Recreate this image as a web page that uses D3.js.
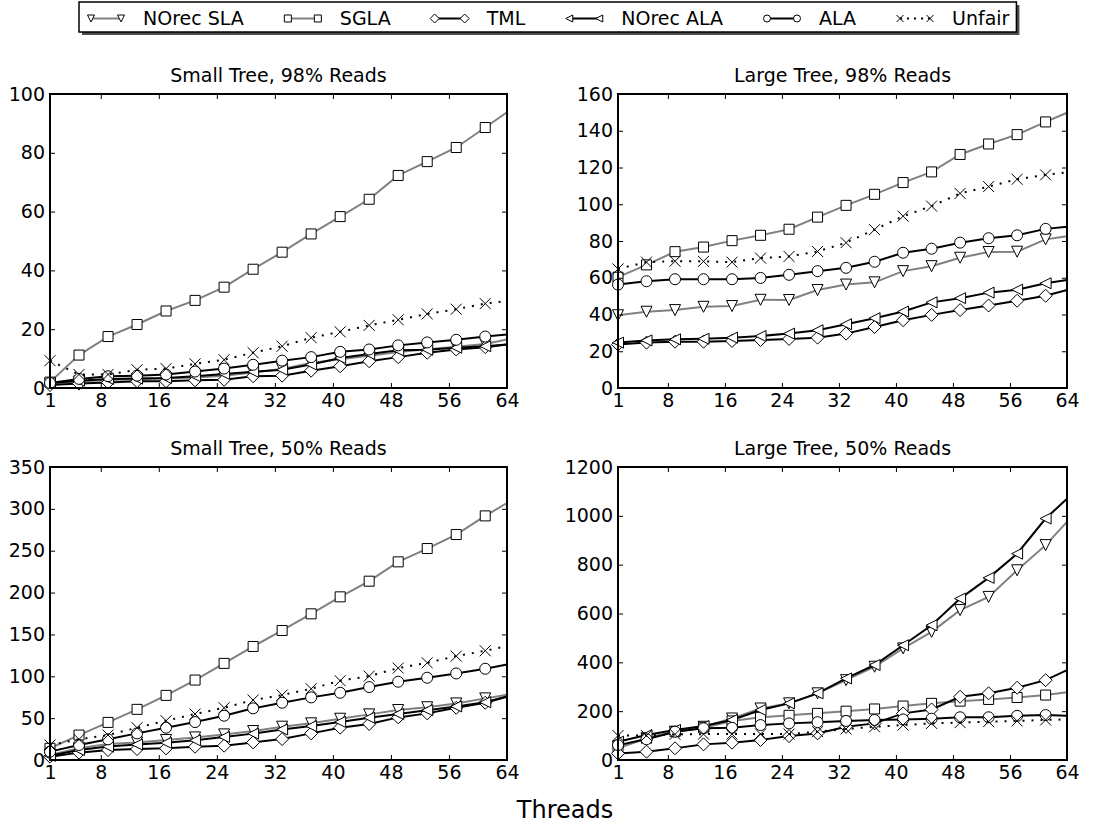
<!DOCTYPE html>
<html>
<head>
<meta charset="utf-8">
<script src="https://cdn.jsdelivr.net/npm/d3@7"></script>
<style>
body { margin: 0; background: white; }
text { font-family: "DejaVu Sans", sans-serif; fill: black; }
</style>
</head>
<body>
<script>

var w = 1109;
var h = 824;

// thread counts where values were read (markers sit on all but the last)
var threads = [1, 5, 9, 13, 17, 21, 25, 29, 33, 37, 41, 45, 49, 53, 57, 61, 64];
var xTicks = [1, 8, 16, 24, 32, 40, 48, 56, 64];

var seriesNames = ["NOrec SLA", "SGLA", "TML", "NOrec ALA", "ALA", "Unfair"];
var seriesColors = ["#808080", "#808080", "black", "black", "black", "black"];
var seriesShapes = ["triDown", "square", "diamond", "triLeft", "circle", "x"];
var seriesDashed = [false, false, false, false, false, true];

var panelTitles = ["Small Tree, 98% Reads", "Large Tree, 98% Reads", "Small Tree, 50% Reads", "Large Tree, 50% Reads"];
var yTicks98Small = [0, 20, 40, 60, 80, 100];
var yTicks98Large = [0, 20, 40, 60, 80, 100, 120, 140, 160];
var yTicks50Small = [0, 50, 100, 150, 200, 250, 300, 350];
var yTicks50Large = [0, 200, 400, 600, 800, 1000, 1200];

// Small Tree, 98% Reads
var st98NorecSla = [1.5, 2.2, 2.7, 3.0, 3.2, 3.6, 4.2, 5.3, 6.5, 8.5, 9.8, 11.0, 12.2, 13.2, 14.0, 15.0, 16.5];
var st98Sgla     = [2.0, 11.2, 17.5, 21.6, 26.2, 29.8, 34.3, 40.4, 46.2, 52.4, 58.3, 64.2, 72.3, 77.0, 81.8, 88.6, 93.8];
var st98Tml      = [1.0, 1.5, 1.9, 2.3, 2.3, 2.6, 2.8, 4.0, 4.2, 5.9, 7.4, 9.1, 10.5, 12.0, 13.1, 13.9, 14.8];
var st98NorecAla = [1.7, 2.5, 3.1, 3.2, 3.4, 4.0, 4.8, 5.5, 6.2, 8.0, 10.2, 11.6, 12.8, 13.0, 13.7, 14.2, 14.8];
var st98Ala      = [1.7, 3.1, 4.0, 4.2, 4.6, 5.6, 6.6, 7.9, 9.3, 10.5, 12.3, 13.1, 14.5, 15.5, 16.4, 17.5, 18.2];
var st98Unfair   = [9.3, 4.6, 4.6, 6.2, 6.6, 8.2, 9.6, 12.0, 14.2, 17.1, 19.1, 21.3, 23.2, 25.2, 26.8, 28.7, 29.6];

// Large Tree, 98% Reads
var lt98NorecSla = [39.6, 41.5, 42.4, 44.2, 44.6, 48.0, 47.9, 53.3, 56.3, 57.5, 63.6, 66.3, 70.9, 74.0, 74.2, 80.9, 82.6];
var lt98Sgla     = [60.3, 67.0, 74.2, 76.7, 80.2, 83.1, 86.4, 93.0, 99.4, 105.4, 111.8, 117.6, 127.1, 132.8, 137.9, 144.8, 149.8];
var lt98Tml      = [23.7, 24.7, 25.2, 25.2, 25.6, 26.1, 26.7, 27.4, 29.6, 33.2, 36.9, 39.8, 42.4, 44.9, 47.5, 50.2, 53.3];
var lt98NorecAla = [24.7, 25.9, 26.5, 26.8, 27.4, 28.3, 29.6, 31.4, 34.7, 38.0, 41.6, 46.6, 48.9, 51.9, 53.5, 57.0, 58.8];
var lt98Ala      = [56.3, 58.1, 59.2, 59.2, 59.2, 59.9, 61.6, 63.6, 65.4, 68.7, 73.6, 75.8, 79.1, 81.5, 83.1, 86.6, 87.7];
var lt98Unfair   = [64.8, 68.5, 69.0, 68.9, 68.5, 70.7, 71.6, 74.3, 79.1, 86.2, 93.5, 99.0, 105.9, 109.6, 113.6, 116.0, 117.3];

// Small Tree, 50% Reads
var st50NorecSla = [6, 14, 19, 21, 23.9, 27, 30.6, 34.6, 39.8, 43.8, 49.3, 54.5, 59.7, 63, 67.6, 73.6, 78];
var st50Sgla     = [14, 29.8, 44.9, 60.5, 77.2, 95.5, 115.4, 135.6, 154.7, 174.6, 194.9, 213.6, 236.7, 252.6, 269.3, 291.6, 307];
var st50Tml      = [4, 8.8, 11.9, 13.1, 13.9, 15.9, 17.1, 21, 25, 31.8, 38.6, 43, 50.9, 55.7, 62.4, 68.4, 75.6];
var st50NorecAla = [5, 12, 16, 18.5, 20.5, 23.5, 27.5, 31.5, 36.5, 40.5, 45.5, 50.5, 55, 59.5, 64, 69, 76];
var st50Ala      = [10, 17.9, 24.7, 31.8, 38.6, 45.3, 52.9, 61.7, 68.4, 74.8, 80.3, 87.1, 93.5, 98.3, 103.4, 109, 114.2];
var st50Unfair   = [17.9, 24.7, 29.8, 38.6, 46.9, 54.9, 62.4, 71.6, 77.6, 85.1, 94.7, 100.2, 109.8, 116.1, 124.1, 130.5, 136];

// Large Tree, 50% Reads
var lt50NorecSla = [55, 89, 116, 136, 170, 211, 232, 273, 327, 382, 457, 525, 614, 668, 777, 880, 975];
var lt50Sgla     = [48, 89, 116, 132, 160, 175, 183, 191, 200, 209, 221, 232, 241, 248, 256, 266, 277];
var lt50Tml      = [27, 34, 48, 64, 71, 82, 98, 109, 136, 150, 191, 207, 259, 273, 296, 327, 368];
var lt50NorecAla = [75, 102, 123, 139, 164, 205, 232, 273, 334, 389, 470, 552, 661, 746, 845, 989, 1070];
var lt50Ala      = [61, 85, 116, 130, 132, 143, 150, 155, 160, 164, 166, 169, 175, 175, 181, 184, 181];
var lt50Unfair   = [100, 100, 105, 106, 106, 106, 106, 116, 127, 136, 143, 150, 153, 157, 160, 164, 166];

var panels = [
    { title: panelTitles[0], yTicks: yTicks98Small, left: 50, top: 94, right: 507, bottom: 388,
      series: [st98NorecSla, st98Sgla, st98Tml, st98NorecAla, st98Ala, st98Unfair] },
    { title: panelTitles[1], yTicks: yTicks98Large, left: 618, top: 94, right: 1067, bottom: 388,
      series: [lt98NorecSla, lt98Sgla, lt98Tml, lt98NorecAla, lt98Ala, lt98Unfair] },
    { title: panelTitles[2], yTicks: yTicks50Small, left: 50, top: 467, right: 507, bottom: 760,
      series: [st50NorecSla, st50Sgla, st50Tml, st50NorecAla, st50Ala, st50Unfair] },
    { title: panelTitles[3], yTicks: yTicks50Large, left: 618, top: 467, right: 1067, bottom: 760,
      series: [lt50NorecSla, lt50Sgla, lt50Tml, lt50NorecAla, lt50Ala, lt50Unfair] }
];

var svg = d3.select("body")
            .append("svg")
            .attr("width", w)
            .attr("height", h);

function markerPath(shape, s) {
    if (shape == "square") { return "M" + (-s) + "," + (-s) + "h" + 2*s + "v" + 2*s + "h" + (-2*s) + "Z"; }
    if (shape == "circle") { return "M" + s + ",0A" + s + "," + s + " 0 1 1 " + (-s) + ",0A" + s + "," + s + " 0 1 1 " + s + ",0Z"; }
    if (shape == "diamond") { return "M0," + (-s) + "L" + s + ",0L0," + s + "L" + (-s) + ",0Z"; }
    if (shape == "triDown") { return "M" + (-s) + "," + (-s) + "L" + s + "," + (-s) + "L0," + s + "Z"; }
    if (shape == "triLeft") { return "M" + (-s) + ",0L" + s + "," + (-s) + "L" + s + "," + s + "Z"; }
    // x
    return "M" + (-s) + "," + (-s) + "L" + s + "," + s + "M" + (-s) + "," + s + "L" + s + "," + (-s);
}

function markerSize(shape) {
    if (shape == "square") { return 5; }
    if (shape == "diamond") { return 6.5; }
    if (shape == "circle") { return 5.5; }
    return 5.5;
}

function drawPanel(p) {
    var x = d3.scaleLinear().domain([1, 64]).range([p.left, p.right]);
    var yMax = p.yTicks[p.yTicks.length - 1];
    var y = d3.scaleLinear().domain([0, yMax]).range([p.bottom, p.top]);

    var g = svg.append("g");

    // lines + markers, one series at a time
    p.series.forEach(function(vals, k) {
        var pts = threads.map(function(t, i) { return [t, vals[i]]; });
        var line = d3.line()
            .x(function(d) { return x(d[0]); })
            .y(function(d) { return y(d[1]); });
        g.append("path")
            .attr("d", line(pts))
            .attr("fill", "none")
            .attr("stroke", seriesColors[k])
            .attr("stroke-width", 2)
            .attr("stroke-dasharray", seriesDashed[k] ? "2,7" : null);

        var shape = seriesShapes[k];
        g.selectAll(null)
            .data(pts.slice(0, pts.length - 1))
            .enter()
            .append("path")
            .attr("transform", function(d) { return "translate(" + x(d[0]) + "," + y(d[1]) + ")"; })
            .attr("d", markerPath(shape, markerSize(shape)))
            .attr("fill", shape == "x" ? "none" : "white")
            .attr("stroke", "black")
            .attr("stroke-width", 1);
    });

    // axes, ticks pointing inward like the original
    var fs = "19px";
    var bottomAxis = d3.axisBottom(x).tickValues(xTicks).tickSizeInner(-5).tickSizeOuter(0).tickPadding(6);
    var topAxis = d3.axisTop(x).tickValues(xTicks).tickSizeInner(-5).tickSizeOuter(0).tickFormat("");
    var leftAxis = d3.axisLeft(y).tickValues(p.yTicks).tickFormat(d3.format("d")).tickSizeInner(-5).tickSizeOuter(0).tickPadding(5);
    var rightAxis = d3.axisRight(y).tickValues(p.yTicks).tickSizeInner(-5).tickSizeOuter(0).tickFormat("");

    var ab = g.append("g").attr("transform", "translate(0," + p.bottom + ")").call(bottomAxis);
    var at = g.append("g").attr("transform", "translate(0," + p.top + ")").call(topAxis);
    var al = g.append("g").attr("transform", "translate(" + p.left + ",0)").call(leftAxis);
    var ar = g.append("g").attr("transform", "translate(" + p.right + ",0)").call(rightAxis);

    [ab, at, al, ar].forEach(function(a) {
        a.select(".domain").remove();
        a.selectAll("line").attr("stroke", "black").attr("stroke-width", 1);
        a.selectAll("text").style("font-size", fs).style("font-family", "DejaVu Sans").attr("fill", "black");
    });

    g.append("rect")
        .attr("x", p.left)
        .attr("y", p.top)
        .attr("width", p.right - p.left)
        .attr("height", p.bottom - p.top)
        .attr("fill", "none")
        .attr("stroke", "black")
        .attr("stroke-width", 2);

    g.append("text")
        .attr("x", (p.left + p.right) / 2)
        .attr("y", p.top - 12)
        .attr("text-anchor", "middle")
        .style("font-size", "19px")
        .text(p.title);
}

panels.forEach(drawPanel);

svg.append("text")
    .attr("x", 565)
    .attr("y", 818)
    .attr("text-anchor", "middle")
    .style("font-size", "24px")
    .text("Threads");

// legend with drop shadow
function drawLegend() {
    var lg = svg.append("g");
    var shadow = lg.append("rect").attr("fill", "#4d4d4d");
    var box = lg.append("rect").attr("fill", "white").attr("stroke", "black").attr("stroke-width", 1.5);
    var cx = 91;
    var ly = 18.5;
    seriesNames.forEach(function(name, k) {
        var shape = seriesShapes[k];
        lg.append("line")
            .attr("x1", cx).attr("x2", cx + 30)
            .attr("y1", ly).attr("y2", ly)
            .attr("stroke", seriesColors[k])
            .attr("stroke-width", 2)
            .attr("stroke-dasharray", seriesDashed[k] ? "2,5" : null);
        [cx, cx + 30].forEach(function(mx) {
            lg.append("path")
                .attr("transform", "translate(" + mx + "," + ly + ")")
                .attr("d", markerPath(shape, shape == "diamond" ? 4.5 : 3.5))
                .attr("fill", shape == "x" ? "none" : "white")
                .attr("stroke", "black")
                .attr("stroke-width", 1);
        });
        var t = lg.append("text")
            .attr("x", cx + 52)
            .attr("y", 25)
            .style("font-size", "19px")
            .text(name);
        cx = cx + 52 + t.node().getComputedTextLength() + 44;
    });
    var bx = 79, by = 2, bw = cx - 44 + 7 - bx, bh = 30;
    shadow.attr("x", bx + 3).attr("y", by + 3).attr("width", bw).attr("height", bh);
    box.attr("x", bx).attr("y", by).attr("width", bw).attr("height", bh);
}

drawLegend();

</script>
</body>
</html>
